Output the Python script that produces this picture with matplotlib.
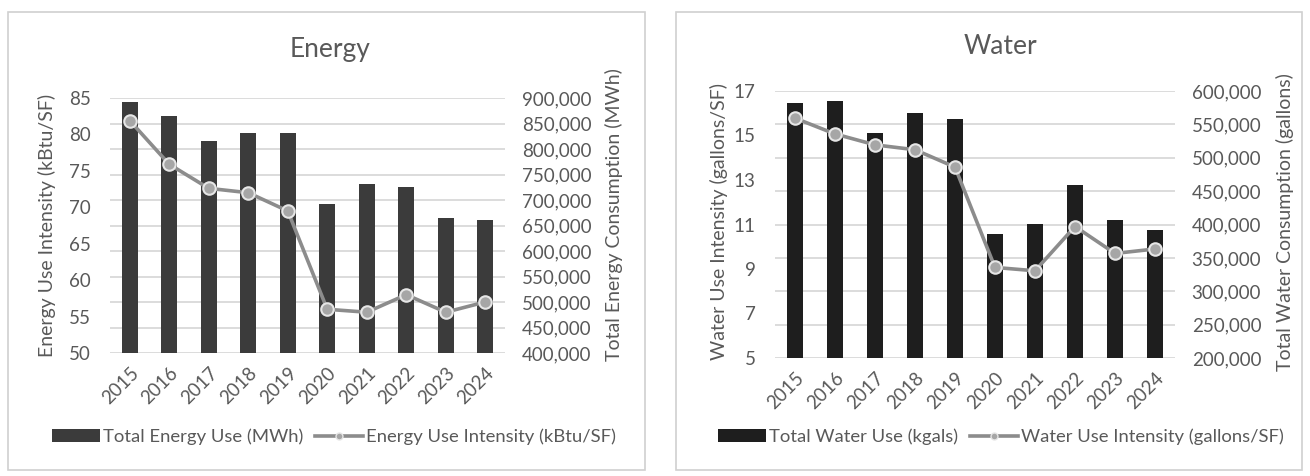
import matplotlib
matplotlib.use("Agg")
import matplotlib.pyplot as plt
from matplotlib.patches import Rectangle, Patch
from matplotlib.lines import Line2D
from matplotlib.ticker import FuncFormatter

plt.rcParams['font.family'] = ['Lato', 'DejaVu Sans']

years = ["2015", "2016", "2017", "2018", "2019", "2020", "2021", "2022", "2023", "2024"]

energy_total_mwh = [893000, 864000, 815000, 832000, 832000, 693000, 732000, 726000, 664000, 660000]
energy_eui = [81.9, 75.9, 72.6, 72.0, 69.5, 56.0, 55.6, 58.0, 55.6, 57.0]

water_total = [581700, 585700, 536700, 566700, 557800, 385600, 401000, 459000, 407000, 391600]
water_eui = [15.78, 15.07, 14.58, 14.36, 13.58, 9.07, 8.92, 10.91, 9.70, 9.90]

W, H = 1310, 476
fig = plt.figure(figsize=(W / 100, H / 100), dpi=100)
fig.patch.set_facecolor("white")

TXT = "#595959"
GRID = "#d9d9d9"
LINE = "#8c8c8c"
TICK_FS = 13.5
LAB_FS = 14
LEG_FS = 13.3
TITLE_FS = 19


def px(x0, y0, x1, y1):
    return [x0 / W, 1 - y1 / H, (x1 - x0) / W, (y1 - y0) / H]


def panel(x0, y0, x1, y1):
    fig.add_artist(Rectangle((x0 / W, 1 - y1 / H), (x1 - x0) / W, (y1 - y0) / H,
                             transform=fig.transFigure, fill=False,
                             edgecolor="#d0d0d0", linewidth=1.2))


def make_chart(rect, totals, eui, bar_color, lmin, lmax, lstep, rmin, rmax, rstep):
    ax = fig.add_axes(rect)
    ax2 = ax.twinx()
    x = list(range(len(years)))
    ax2.bar(x, totals, width=0.4, color=bar_color, zorder=2)
    ax2.set_ylim(rmin, rmax)
    ax2.set_yticks(list(range(rmin, rmax + 1, rstep)))
    ax2.yaxis.set_major_formatter(FuncFormatter(lambda v, p: f"{int(v):,}"))
    ax2.grid(axis="y", color=GRID, linewidth=1.3)
    ax2.set_axisbelow(True)

    ax.set_zorder(ax2.get_zorder() + 1)
    ax.patch.set_visible(False)
    ax.plot(x, eui, color=LINE, linewidth=2.6, marker="o", markersize=9,
            markerfacecolor="#a6a6a6", markeredgecolor="#e6e6e6", markeredgewidth=1.5,
            zorder=3)
    ax.set_ylim(lmin, lmax)
    ticks = []
    v = lmin
    while v <= lmax + 1e-9:
        ticks.append(v)
        v += lstep
    ax.set_yticks(ticks)
    ax.set_xlim(-0.5, len(years) - 0.5)
    ax.set_xticks(x)
    ax.set_xticklabels(years, rotation=45, ha="right", rotation_mode="anchor")

    for a in (ax, ax2):
        for s in a.spines.values():
            s.set_visible(False)
        a.tick_params(length=0, colors=TXT, labelsize=TICK_FS)
    ax.tick_params(axis="y", pad=14)
    ax2.tick_params(axis="y", pad=12)
    ax.tick_params(axis="x", pad=8)
    return ax, ax2


# Energy panel
panel(8, 12, 645, 470)
make_chart(px(110, 98, 505, 353), energy_total_mwh, energy_eui, "#3b3b3b",
           50, 85, 5, 400000, 900000, 50000)
fig.text(330 / W, 1 - 50 / H, "Energy", ha="center", va="center", fontsize=TITLE_FS, color=TXT)
fig.text(47 / W, 1 - 225 / H, "Energy Use Intensity (kBtu/SF)", rotation=90,
         ha="center", va="center", fontsize=LAB_FS, color=TXT)
fig.text(614 / W, 1 - 215 / H, "Total Energy Consumption (MWh)", rotation=90,
         ha="center", va="center", fontsize=LAB_FS, color=TXT)
h1 = [Patch(facecolor="#3b3b3b", edgecolor="none"),
      Line2D([0], [0], color=LINE, linewidth=2.6, marker="o", markersize=5,
             markerfacecolor="#a6a6a6", markeredgecolor="#e6e6e6")]
fig.legend(h1, ["Total Energy Use (MWh)", "Energy Use Intensity (kBtu/SF)"],
           loc="center", bbox_to_anchor=(334 / W, 1 - 437 / H), ncol=2, frameon=False,
           fontsize=LEG_FS, labelcolor=TXT, handlelength=2.6, handletextpad=0.2,
           columnspacing=0.6)

# Water panel
panel(676, 12, 1302, 470)
make_chart(px(775, 91, 1175, 358), water_total, water_eui, "#1e1e1e",
           5, 17, 2, 200000, 600000, 50000)
fig.text(1000 / W, 1 - 47 / H, "Water", ha="center", va="center", fontsize=TITLE_FS, color=TXT)
fig.text(719 / W, 1 - 222 / H, "Water Use Intensity (gallons/SF)", rotation=90,
         ha="center", va="center", fontsize=LAB_FS, color=TXT)
fig.text(1285 / W, 1 - 222 / H, "Total Water Consumption (gallons)", rotation=90,
         ha="center", va="center", fontsize=LAB_FS, color=TXT)
h2 = [Patch(facecolor="#1e1e1e", edgecolor="none"),
      Line2D([0], [0], color=LINE, linewidth=2.6, marker="o", markersize=5,
             markerfacecolor="#a6a6a6", markeredgecolor="#e6e6e6")]
fig.legend(h2, ["Total Water Use (kgals)", "Water Use Intensity (gallons/SF)"],
           loc="center", bbox_to_anchor=(1001 / W, 1 - 437 / H), ncol=2, frameon=False,
           fontsize=LEG_FS, labelcolor=TXT, handlelength=2.6, handletextpad=0.2,
           columnspacing=0.6)

fig.savefig("out.png", dpi=100, facecolor="white")
